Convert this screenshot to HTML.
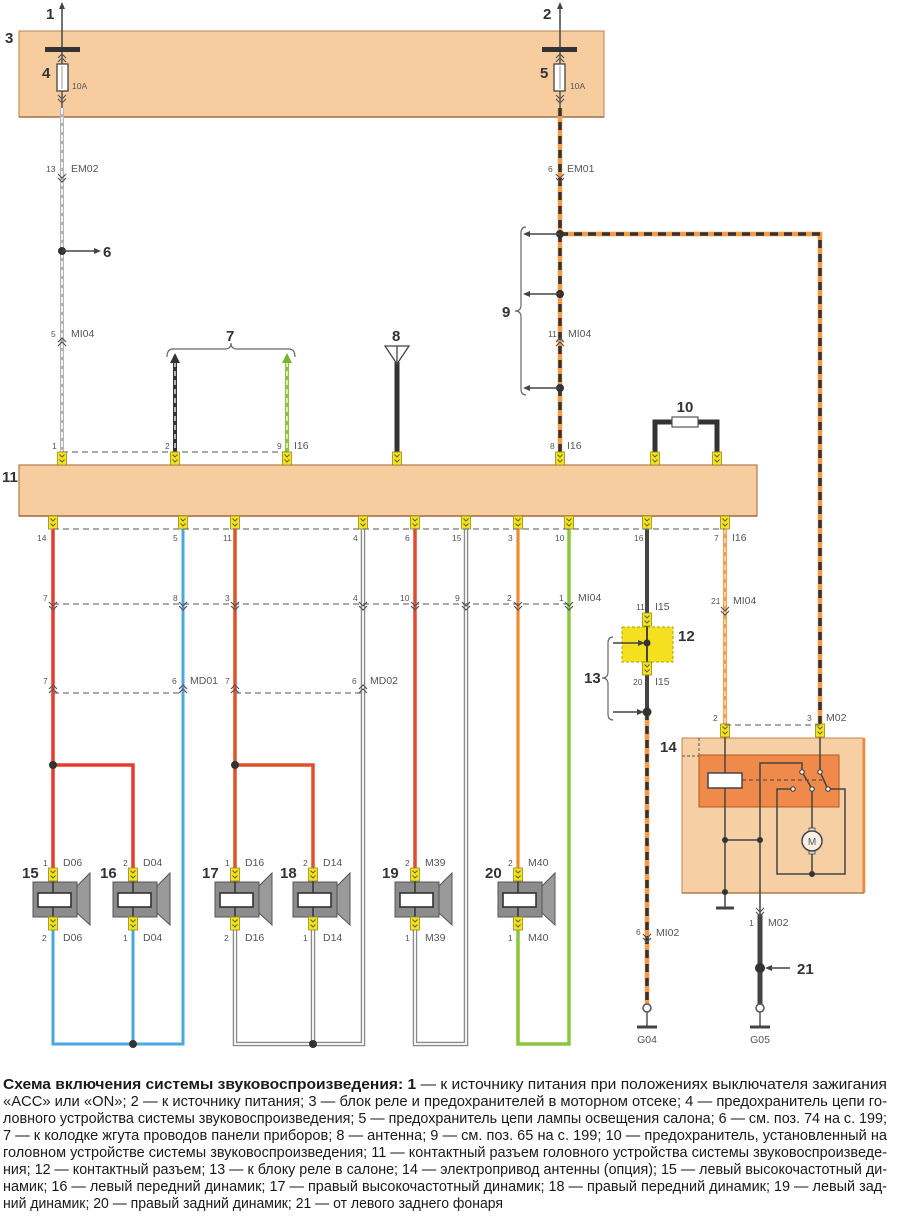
<!DOCTYPE html>
<html><head><meta charset="utf-8"><style>
html,body{margin:0;padding:0;background:#fff;}
svg{display:block;}
text{font-family:"Liberation Sans",sans-serif;}
.s{font-size:8.5px;fill:#555;}
.m{font-size:10.5px;fill:#555;}
.b{font-size:15px;font-weight:bold;fill:#333;}
.c{font-size:15px;fill:#1a1a1a;}
</style></head><body>
<svg width="900" height="1228" viewBox="0 0 900 1228" xmlns="http://www.w3.org/2000/svg">
<defs>
<g id="pin"><rect x="-4.5" y="0" width="9" height="13" fill="#f2e425" stroke="#9a8a10" stroke-width="0.8"/><path d="M-2.5 2.5 L0 5 L2.5 2.5 M-2.5 7.5 L0 10 L2.5 7.5" fill="none" stroke="#6a6020" stroke-width="1"/></g>
<g id="cd"><path d="M-4 -4 L0 0 L4 -4 M-4 0 L0 4 L4 0" fill="none" stroke="#555" stroke-width="1.2"/></g>
<g id="cu"><path d="M-4 4 L0 0 L4 4 M-4 0 L0 -4 L4 0" fill="none" stroke="#555" stroke-width="1.2"/></g>
<g id="spk">
<rect x="-20" y="14" width="44" height="35" fill="#8c8c8c" stroke="#555" stroke-width="1"/>
<polygon points="24,18 37,5 37,57 24,45" fill="#9a9a9a" stroke="#555" stroke-width="1"/>
<rect x="-15" y="25" width="33" height="14" fill="#fff" stroke="#333" stroke-width="1.6"/>
<line x1="0" y1="13" x2="0" y2="25" stroke="#333" stroke-width="1.5"/>
<line x1="0" y1="39" x2="0" y2="49" stroke="#333" stroke-width="1.5"/>
<use href="#pin" x="0" y="0"/>
<use href="#pin" x="0" y="49"/>
</g>
</defs>
<rect width="900" height="1228" fill="#fff"/>

<!-- Box 3 -->
<rect x="19" y="31" width="585" height="86" fill="#f7cc9f" stroke="#b98055" stroke-width="1"/>
<line x1="19" y1="117" x2="604" y2="117" stroke="#a0704a" stroke-width="1.5"/>
<text x="5" y="43" class="b">3</text>
<line x1="62" y1="8" x2="62" y2="50" stroke="#444" stroke-width="1.5"/>
<polygon points="62,2 59,9 65,9" fill="#444"/>
<text x="46" y="19" class="b">1</text>
<line x1="560" y1="8" x2="560" y2="50" stroke="#444" stroke-width="1.5"/>
<polygon points="560,2 557,9 563,9" fill="#444"/>
<text x="543" y="19" class="b">2</text>
<rect x="45" y="47" width="35" height="5" fill="#333"/>
<rect x="542" y="47" width="35" height="5" fill="#333"/>
<line x1="62" y1="52" x2="62" y2="108" stroke="#555" stroke-width="1.5"/>
<line x1="560" y1="52" x2="560" y2="108" stroke="#555" stroke-width="1.5"/>
<rect x="57" y="64" width="11" height="27" fill="#fff" stroke="#444" stroke-width="1.3"/>
<rect x="554" y="64" width="11" height="27" fill="#fff" stroke="#444" stroke-width="1.3"/>
<line x1="62" y1="66" x2="62" y2="89" stroke="#999" stroke-width="1"/>
<line x1="560" y1="66" x2="560" y2="89" stroke="#999" stroke-width="1"/>
<use href="#cu" x="62" y="58"/><use href="#cd" x="62" y="99"/>
<use href="#cu" x="560" y="58"/><use href="#cd" x="560" y="99"/>
<text x="42" y="78" class="b">4</text>
<text x="72" y="89" class="s" font-size="9.5">10A</text>
<text x="540" y="78" class="b">5</text>
<text x="570" y="89" class="s" font-size="9.5">10A</text>

<!-- left wire EM02 -->
<line x1="62" y1="108" x2="62" y2="452" stroke="#b4b4b4" stroke-width="4"/>
<line x1="62" y1="108" x2="62" y2="452" stroke="#fff" stroke-width="1.6" stroke-dasharray="6 3"/>
<use href="#cd" x="62" y="178"/>
<text x="46" y="172" class="s">13</text>
<text x="71" y="172" class="m">EM02</text>
<circle cx="62" cy="251" r="4" fill="#333"/>
<line x1="62" y1="251" x2="96" y2="251" stroke="#444" stroke-width="1.5"/>
<polygon points="101,251 94,248 94,254" fill="#444"/>
<text x="103" y="257" class="b">6</text>
<use href="#cu" x="62" y="342"/>
<text x="51" y="337" class="s">5</text>
<text x="71" y="337" class="m">MI04</text>
<text x="52" y="449" class="s">1</text>

<!-- right column EM01 -->
<path d="M560,108 V452 M560,234 H820 V724" fill="none" stroke="#f59b45" stroke-width="4.5"/>
<path d="M560,108 V452 M560,234 H820 V724" fill="none" stroke="#333" stroke-width="3.5" stroke-dasharray="8 6"/>
<use href="#cd" x="560" y="178"/>
<text x="548" y="172" class="s">6</text>
<text x="567" y="172" class="m">EM01</text>
<circle cx="560" cy="234" r="4" fill="#333"/>
<circle cx="560" cy="294" r="4" fill="#333"/>
<circle cx="560" cy="388" r="4" fill="#333"/>
<g stroke="#444" stroke-width="1.5">
<line x1="530" y1="234" x2="560" y2="234"/>
<line x1="530" y1="294" x2="560" y2="294"/>
<line x1="530" y1="388" x2="560" y2="388"/>
</g>
<polygon points="523,234 530,231 530,237" fill="#444"/>
<polygon points="523,294 530,291 530,297" fill="#444"/>
<polygon points="523,388 530,385 530,391" fill="#444"/>
<path d="M526,227 Q521,227 521,233 L521,305 Q521,311 515,311 Q521,311 521,317 L521,389 Q521,395 526,395" fill="none" stroke="#666" stroke-width="1.2"/>
<text x="502" y="317" class="b">9</text>
<use href="#cu" x="560" y="342"/>
<text x="548" y="337" class="s">11</text>
<text x="568" y="337" class="m">MI04</text>
<text x="550" y="449" class="s">8</text>
<text x="567" y="449" class="m">I16</text>

<!-- wire 2 & 9 (group 7) -->
<line x1="175" y1="362" x2="175" y2="452" stroke="#333" stroke-width="4"/>
<line x1="175" y1="362" x2="175" y2="452" stroke="#fff" stroke-width="1.3" stroke-dasharray="5 4"/>
<polygon points="175,353 170,363 180,363" fill="#333"/>
<line x1="287" y1="362" x2="287" y2="452" stroke="#8cc43c" stroke-width="4"/>
<line x1="287" y1="362" x2="287" y2="452" stroke="#fff" stroke-width="1.3" stroke-dasharray="5 4"/>
<polygon points="287,353 282,363 292,363" fill="#7cb030"/>
<path d="M167,357 Q167,349 173,349 L225,349 Q231,349 231,343 Q231,349 237,349 L289,349 Q295,349 295,357" fill="none" stroke="#666" stroke-width="1.2"/>
<text x="226" y="341" class="b">7</text>
<text x="165" y="449" class="s">2</text>
<text x="277" y="449" class="s">9</text>
<text x="294" y="449" class="m">I16</text>

<!-- antenna 8 -->
<line x1="397" y1="362" x2="397" y2="452" stroke="#333" stroke-width="5"/>
<polygon points="385,346 409,346 397,364" fill="#fff" stroke="#444" stroke-width="1.3"/>
<line x1="397" y1="346" x2="397" y2="364" stroke="#444" stroke-width="1.3"/>
<text x="392" y="341" class="b">8</text>

<!-- fuse 10 -->
<path d="M655,452 V422 H672 M698,422 H717 V452" fill="none" stroke="#333" stroke-width="5"/>
<rect x="672" y="417" width="26" height="10" fill="#fff" stroke="#555" stroke-width="1.2"/>
<text x="685" y="412" class="b" text-anchor="middle">10</text>

<line x1="62" y1="452" x2="287" y2="452" stroke="#777" stroke-width="1.2" stroke-dasharray="6 4"/>

<!-- Box 11 -->
<rect x="19" y="465" width="738" height="51" fill="#f7cc9f" stroke="#b27a4e" stroke-width="1.2"/>
<line x1="19" y1="516" x2="757" y2="516" stroke="#a0704a" stroke-width="1.5"/>
<text x="2" y="482" class="b">11</text>
<use href="#pin" x="62" y="452"/><use href="#pin" x="175" y="452"/><use href="#pin" x="287" y="452"/><use href="#pin" x="397" y="452"/><use href="#pin" x="560" y="452"/><use href="#pin" x="655" y="452"/><use href="#pin" x="717" y="452"/>

<!-- lower wires -->
<path d="M53,529 V868 M53,765 H133 V868" fill="none" stroke="#e83a2e" stroke-width="3.5"/>
<circle cx="53" cy="765" r="4" fill="#333"/>
<path d="M183,529 V1044 H53 V930 M133,930 V1044" fill="none" stroke="#4aa8e0" stroke-width="3"/>
<circle cx="133" cy="1044" r="4" fill="#333"/>
<path d="M235,529 V868 M235,765 H313 V868" fill="none" stroke="#e0502a" stroke-width="3.5"/>
<circle cx="235" cy="765" r="4" fill="#333"/>
<path d="M363,529 V1044 H235 V930 M313,930 V1044" fill="none" stroke="#8a8a8a" stroke-width="4.5"/>
<path d="M363,529 V1044 H235 V930 M313,930 V1044" fill="none" stroke="#fff" stroke-width="1.8"/>
<circle cx="313" cy="1044" r="4" fill="#333"/>
<path d="M415,529 V868" fill="none" stroke="#e04a30" stroke-width="3.5"/>
<path d="M466,529 V1044 H415 V930" fill="none" stroke="#8a8a8a" stroke-width="4.5"/>
<path d="M466,529 V1044 H415 V930" fill="none" stroke="#fff" stroke-width="1.8"/>
<path d="M518,529 V868" fill="none" stroke="#f08a30" stroke-width="3.2"/>
<path d="M569,529 V1044 H518 V930" fill="none" stroke="#8cc63f" stroke-width="3.5"/>
<line x1="647" y1="529" x2="647" y2="712" stroke="#444" stroke-width="4"/>
<line x1="647" y1="712" x2="647" y2="1004" stroke="#f59b45" stroke-width="4.5"/>
<line x1="647" y1="712" x2="647" y2="1004" stroke="#333" stroke-width="3.5" stroke-dasharray="8 6"/>
<line x1="725" y1="529" x2="725" y2="724" stroke="#f5a050" stroke-width="4"/>
<line x1="725" y1="529" x2="725" y2="724" stroke="#fde2b8" stroke-width="1.5" stroke-dasharray="5 4"/>

<use href="#pin" x="53" y="516"/><use href="#pin" x="183" y="516"/><use href="#pin" x="235" y="516"/><use href="#pin" x="363" y="516"/><use href="#pin" x="415" y="516"/><use href="#pin" x="466" y="516"/><use href="#pin" x="518" y="516"/><use href="#pin" x="569" y="516"/><use href="#pin" x="647" y="516"/><use href="#pin" x="725" y="516"/>
<line x1="53" y1="529" x2="725" y2="529" stroke="#777" stroke-width="1.2" stroke-dasharray="6 4"/>
<text x="37" y="541" class="s">14</text>
<text x="173" y="541" class="s">5</text>
<text x="223" y="541" class="s">11</text>
<text x="353" y="541" class="s">4</text>
<text x="405" y="541" class="s">6</text>
<text x="452" y="541" class="s">15</text>
<text x="508" y="541" class="s">3</text>
<text x="555" y="541" class="s">10</text>
<text x="634" y="541" class="s">16</text>
<text x="714" y="541" class="s">7</text>
<text x="732" y="541" class="m">I16</text>

<!-- row 1 MI04 -->
<line x1="53" y1="604" x2="569" y2="604" stroke="#777" stroke-width="1.2" stroke-dasharray="6 4"/>
<use href="#cd" x="53" y="606"/><use href="#cd" x="183" y="606"/><use href="#cd" x="235" y="606"/><use href="#cd" x="363" y="606"/><use href="#cd" x="415" y="606"/><use href="#cd" x="466" y="606"/><use href="#cd" x="518" y="606"/><use href="#cd" x="569" y="606"/>
<text x="43" y="601" class="s">7</text>
<text x="173" y="601" class="s">8</text>
<text x="225" y="601" class="s">3</text>
<text x="353" y="601" class="s">4</text>
<text x="400" y="601" class="s">10</text>
<text x="455" y="601" class="s">9</text>
<text x="507" y="601" class="s">2</text>
<text x="559" y="601" class="s">1</text>
<text x="578" y="601" class="m">MI04</text>

<!-- row 2 MD01 MD02 -->
<line x1="53" y1="693" x2="183" y2="693" stroke="#777" stroke-width="1.2" stroke-dasharray="6 4"/>
<line x1="235" y1="693" x2="363" y2="693" stroke="#777" stroke-width="1.2" stroke-dasharray="6 4"/>
<use href="#cu" x="53" y="689"/><use href="#cu" x="183" y="689"/><use href="#cu" x="235" y="689"/><use href="#cu" x="363" y="689"/>
<text x="43" y="684" class="s">7</text>
<text x="172" y="684" class="s">6</text>
<text x="190" y="684" class="m">MD01</text>
<text x="225" y="684" class="s">7</text>
<text x="352" y="684" class="s">6</text>
<text x="370" y="684" class="m">MD02</text>

<!-- speakers -->
<use href="#spk" x="53" y="868"/>
<use href="#spk" x="133" y="868"/>
<use href="#spk" x="235" y="868"/>
<use href="#spk" x="313" y="868"/>
<use href="#spk" x="415" y="868"/>
<use href="#spk" x="518" y="868"/>
<text x="22" y="878" class="b">15</text>
<text x="100" y="878" class="b">16</text>
<text x="202" y="878" class="b">17</text>
<text x="280" y="878" class="b">18</text>
<text x="382" y="878" class="b">19</text>
<text x="485" y="878" class="b">20</text>
<g class="s">
<text x="43" y="866">1</text><text x="42" y="941">2</text>
<text x="123" y="866">2</text><text x="123" y="941">1</text>
<text x="225" y="866">1</text><text x="224" y="941">2</text>
<text x="303" y="866">2</text><text x="303" y="941">1</text>
<text x="405" y="866">2</text><text x="405" y="941">1</text>
<text x="508" y="866">2</text><text x="508" y="941">1</text>
</g>
<g class="m">
<text x="63" y="866">D06</text><text x="63" y="941">D06</text>
<text x="143" y="866">D04</text><text x="143" y="941">D04</text>
<text x="245" y="866">D16</text><text x="245" y="941">D16</text>
<text x="323" y="866">D14</text><text x="323" y="941">D14</text>
<text x="425" y="866">M39</text><text x="425" y="941">M39</text>
<text x="528" y="866">M40</text><text x="528" y="941">M40</text>
</g>

<!-- connector 12 / brace 13 -->
<rect x="622" y="627" width="51" height="35" fill="#f5e020" stroke="#b0a000" stroke-width="1" stroke-dasharray="3 2"/>
<line x1="647" y1="626" x2="647" y2="662" stroke="#444" stroke-width="2"/>
<use href="#pin" x="647" y="613"/>
<use href="#pin" x="647" y="662"/>
<circle cx="647" cy="643" r="3.5" fill="#333"/>
<line x1="613" y1="643" x2="640" y2="643" stroke="#444" stroke-width="1.5"/>
<polygon points="645,643 638,640 638,646" fill="#444"/>
<circle cx="647" cy="712" r="4.5" fill="#333"/>
<line x1="613" y1="712" x2="640" y2="712" stroke="#444" stroke-width="1.5"/>
<polygon points="644,712 637,709 637,715" fill="#444"/>
<path d="M613,637 Q608,637 608,643 L608,672 Q608,678 602,678 Q608,678 608,684 L608,714 Q608,720 613,720" fill="none" stroke="#666" stroke-width="1.2"/>
<text x="584" y="683" class="b">13</text>
<text x="678" y="641" class="b">12</text>
<text x="636" y="610" class="s">11</text>
<text x="655" y="610" class="m">I15</text>
<text x="633" y="685" class="s">20</text>
<text x="655" y="685" class="m">I15</text>

<use href="#cd" x="725" y="611"/>
<text x="711" y="604" class="s">21</text>
<text x="733" y="604" class="m">MI04</text>

<!-- Box 14 -->
<rect x="682" y="738" width="181" height="155" fill="#f7cfa4" stroke="#c0864c" stroke-width="1"/>
<line x1="864" y1="738" x2="864" y2="893" stroke="#f08a3a" stroke-width="2.5"/>
<line x1="682" y1="893" x2="864" y2="893" stroke="#b07a4a" stroke-width="1.5"/>
<text x="660" y="752" class="b">14</text>
<path d="M699,738 V756 M682,756 H699" fill="none" stroke="#555" stroke-width="1" stroke-dasharray="3 2"/>
<rect x="699" y="755" width="140" height="52" fill="#f08a4a" stroke="#b05a20" stroke-width="1"/>
<g fill="none" stroke="#444" stroke-width="1.5">
<path d="M725,737 V773 M725,788 V908"/>
<path d="M760,893 V763 H802 V770"/>
<path d="M820,737 V770"/>
<path d="M725,840 H760"/>
<path d="M791,789 H777 V874 H845 V789 H830"/>
<path d="M812,791 V831 M812,851 V874"/>
<path d="M802,772 L811,787"/>
<path d="M820,772 L827,787"/>
<line x1="716" y1="908" x2="734" y2="908" stroke-width="3"/>
</g>
<rect x="708" y="773" width="34" height="15" fill="#fff" stroke="#444" stroke-width="1.5"/>
<line x1="742" y1="780" x2="822" y2="780" stroke="#555" stroke-width="1.2" stroke-dasharray="4 3"/>
<g fill="#fff" stroke="#444" stroke-width="1.2">
<circle cx="802" cy="772" r="2.2"/><circle cx="793" cy="789" r="2.2"/><circle cx="812" cy="789" r="2.2"/>
<circle cx="820" cy="772" r="2.2"/><circle cx="828" cy="789" r="2.2"/>
</g>
<rect x="809" y="828" width="6" height="4" fill="#ddd" stroke="#444" stroke-width="0.8"/>
<rect x="809" y="850" width="6" height="4" fill="#ddd" stroke="#444" stroke-width="0.8"/>
<circle cx="812" cy="841" r="10" fill="#f7f0e6" stroke="#444" stroke-width="1.5"/>
<text x="812" y="845" font-size="10" fill="#555" text-anchor="middle">M</text>
<g fill="#333"><circle cx="725" cy="840" r="3"/><circle cx="760" cy="840" r="3"/><circle cx="725" cy="892" r="3"/><circle cx="812" cy="874" r="3"/></g>
<use href="#pin" x="725" y="724"/><use href="#pin" x="820" y="724"/>
<line x1="725" y1="725" x2="820" y2="725" stroke="#777" stroke-width="1.2" stroke-dasharray="6 4"/>
<text x="713" y="721" class="s">2</text>
<text x="807" y="721" class="s">3</text>
<text x="826" y="721" class="m">M02</text>

<!-- G05 branch -->
<line x1="760" y1="893" x2="760" y2="914" stroke="#444" stroke-width="1.5"/>
<line x1="760" y1="914" x2="760" y2="1004" stroke="#444" stroke-width="5"/>
<use href="#cd" x="760" y="912"/>
<text x="749" y="926" class="s">1</text>
<text x="768" y="926" class="m">M02</text>
<circle cx="760" cy="968" r="5" fill="#333"/>
<line x1="768" y1="968" x2="790" y2="968" stroke="#444" stroke-width="1.5"/>
<polygon points="765,968 772,965 772,971" fill="#444"/>
<text x="797" y="974" class="b">21</text>

<use href="#cd" x="647" y="938"/>
<text x="636" y="935" class="s">6</text>
<text x="656" y="936" class="m">MI02</text>

<g stroke="#555" stroke-width="1.5" fill="#fff">
<circle cx="647" cy="1008" r="4"/><line x1="647" y1="1012" x2="647" y2="1026"/>
<circle cx="760" cy="1008" r="4"/><line x1="760" y1="1012" x2="760" y2="1026"/>
</g>
<line x1="637" y1="1027" x2="657" y2="1027" stroke="#444" stroke-width="3"/>
<line x1="750" y1="1027" x2="770" y2="1027" stroke="#444" stroke-width="3"/>
<text x="647" y="1043" class="m" text-anchor="middle">G04</text>
<text x="760" y="1043" class="m" text-anchor="middle">G05</text>

<!-- caption -->
<g class="c">
<text x="3" y="1089" textLength="884" lengthAdjust="spacingAndGlyphs"><tspan font-weight="bold">Схема включения системы звуковоспроизведения: 1</tspan> — к источнику питания при положениях выключателя зажигания</text>
<text x="3" y="1106" textLength="884" lengthAdjust="spacingAndGlyphs">«ACC» или «ON»; 2 — к источнику питания; 3 — блок реле и предохранителей в моторном отсеке; 4 — предохранитель цепи го-</text>
<text x="3" y="1123" textLength="884" lengthAdjust="spacingAndGlyphs">ловного устройства системы звуковоспроизведения; 5 — предохранитель цепи лампы освещения салона; 6 — см. поз. 74 на с. 199;</text>
<text x="3" y="1140" textLength="884" lengthAdjust="spacingAndGlyphs">7 — к колодке жгута проводов панели приборов; 8 — антенна; 9 — см. поз. 65 на с. 199; 10 — предохранитель, установленный на</text>
<text x="3" y="1157" textLength="884" lengthAdjust="spacingAndGlyphs">головном устройстве системы звуковоспроизведения; 11 — контактный разъем головного устройства системы звуковоспроизведе-</text>
<text x="3" y="1174" textLength="884" lengthAdjust="spacingAndGlyphs">ния; 12 — контактный разъем; 13 — к блоку реле в салоне; 14 — электропривод антенны (опция); 15 — левый высокочастотный ди-</text>
<text x="3" y="1191" textLength="884" lengthAdjust="spacingAndGlyphs">намик; 16 — левый передний динамик; 17 — правый высокочастотный динамик; 18 — правый передний динамик; 19 — левый зад-</text>
<text x="3" y="1208" textLength="500" lengthAdjust="spacingAndGlyphs">ний динамик; 20 — правый задний динамик; 21 — от левого заднего фонаря</text>
</g>
</svg>
</body></html>
